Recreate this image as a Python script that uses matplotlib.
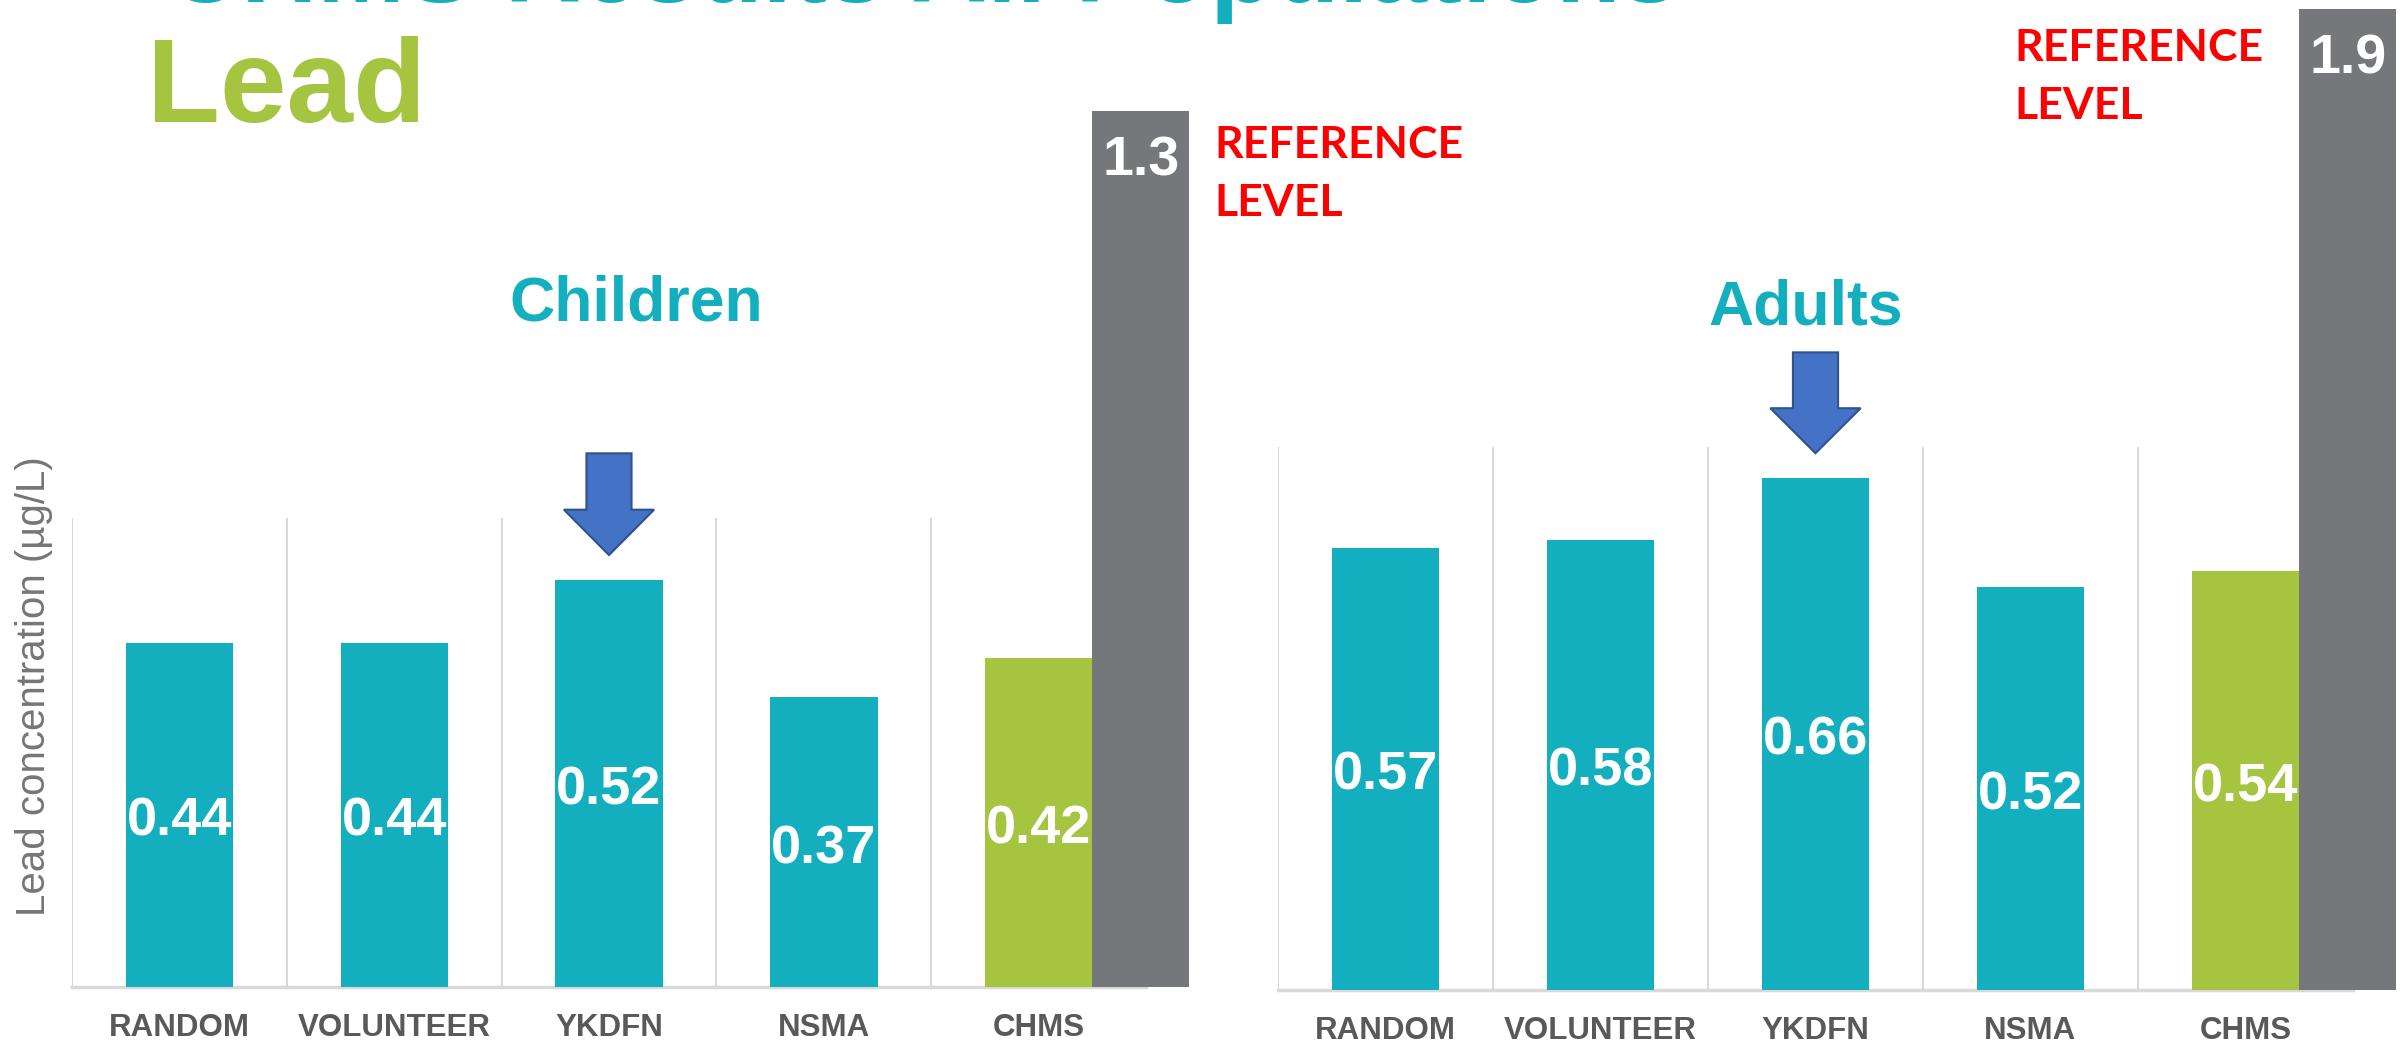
import matplotlib.pyplot as plt
from matplotlib.patches import FancyArrow

# data
groups = ['RANDOM', 'VOLUNTEER', 'YKDFN', 'NSMA', 'CHMS']
children = [0.44, 0.44, 0.52, 0.37, 0.42]
adults = [0.57, 0.58, 0.66, 0.52, 0.54]
ref_level = [1.3, 1.9]          # reference level (children, adults)
ref_bar_shown = [1.12, 1.265]   # gray bar is cut off on the slide
highlight = 2                   # YKDFN gets the arrow

teal = '#14AFBE'
green = '#A5C540'
gray = '#76777B'
grid = '#D9D9D9'
font = 'Liberation Sans'

W, H = 2408, 1046
fig = plt.figure(figsize=(W / 100, H / 100), dpi=100)

# slide title (top line is cut off in the original)
fig.text(165 / W, 1 - 2 / H, 'CHMS Results All Populations', family=font,
         fontweight='bold', fontsize=76, color=teal, ha='left', va='baseline')
fig.text(147 / W, 1 - 122 / H, 'Lead', family=font, fontweight='bold',
         fontsize=86, color=green, ha='left', va='baseline')


def panel(ax, vals, ymax, ref, ref_top, title, title_xy, ref_xy):
    x = range(len(vals))
    colors = [teal] * (len(vals) - 1) + [green]
    ax.bar(x, vals, width=0.5, color=colors, zorder=3)
    # reference level bar next to CHMS
    ax.bar(len(vals) - 0.75, ref_top, width=0.45, align='edge', color=gray,
           zorder=3, clip_on=False)
    ax.annotate(f'{ref}', (len(vals) - 0.525, ref_top), xytext=(0, -18),
                textcoords='offset points', ha='center', va='top',
                family=font, fontweight='bold', fontsize=40, color='white',
                annotation_clip=False, zorder=5)
    for i, v in enumerate(vals):
        ax.annotate(f'{v:.2f}', (i, v / 2), xytext=(0, -5),
                    textcoords='offset points', ha='center', va='center',
                    family=font, fontweight='bold', fontsize=39,
                    color='white', zorder=4)

    # arrow over the highlighted group
    tip = vals[highlight] + 0.032
    ln = 0.13
    ax.add_patch(FancyArrow(highlight, tip + ln, 0, -ln, width=0.21,
                            head_width=0.42, head_length=0.058,
                            length_includes_head=True, fc='#4472C4',
                            ec='#2F528F', lw=1.5, clip_on=False, zorder=4))

    ax.vlines([i - 0.5 for i in range(len(vals) + 1)], 0, ymax, color=grid,
              lw=1.5, zorder=1)
    ax.set_xlim(-0.5, len(vals) - 0.5)
    ax.set_ylim(0, ymax)
    for s in ['top', 'right', 'left']:
        ax.spines[s].set_visible(False)
    ax.spines['bottom'].set_color(grid)
    ax.spines['bottom'].set_linewidth(2.5)
    ax.set_yticks([])
    ax.set_xticks(list(x))
    ax.set_xticklabels(groups, family=font, fontweight='bold', fontsize=22.5,
                       color='#595959')
    ax.tick_params(axis='x', length=0, pad=19)

    fig.text(title_xy[0] / W, 1 - title_xy[1] / H, title, family=font,
             fontweight='bold', fontsize=45, color=teal, ha='center',
             va='center')
    fig.text(ref_xy[0] / W, 1 - ref_xy[1] / H, 'REFERENCE\nLEVEL',
             family='Lato', fontweight='bold', fontsize=32, color='#FF0000',
             ha='left', va='top', linespacing=1.55)


axL = fig.add_axes([72 / W, 1 - 987 / H, (1146 - 72) / W, (987 - 517.5) / H])
axR = fig.add_axes([1278 / W, 1 - 990 / H, (2353 - 1278) / W, (990 - 447) / H])

panel(axL, children, 0.6, ref_level[0], ref_bar_shown[0], 'Children',
      (636, 304), (1214, 125))
panel(axR, adults, 0.7, ref_level[1], ref_bar_shown[1], 'Adults',
      (1806, 308), (2014, 28))

fig.text(34 / W, 1 - 686 / H, 'Lead concentration (µg/L)', family=font,
         fontsize=29, color='#767676', rotation=90, ha='center', va='center')

fig.savefig('out.png', dpi=100)
